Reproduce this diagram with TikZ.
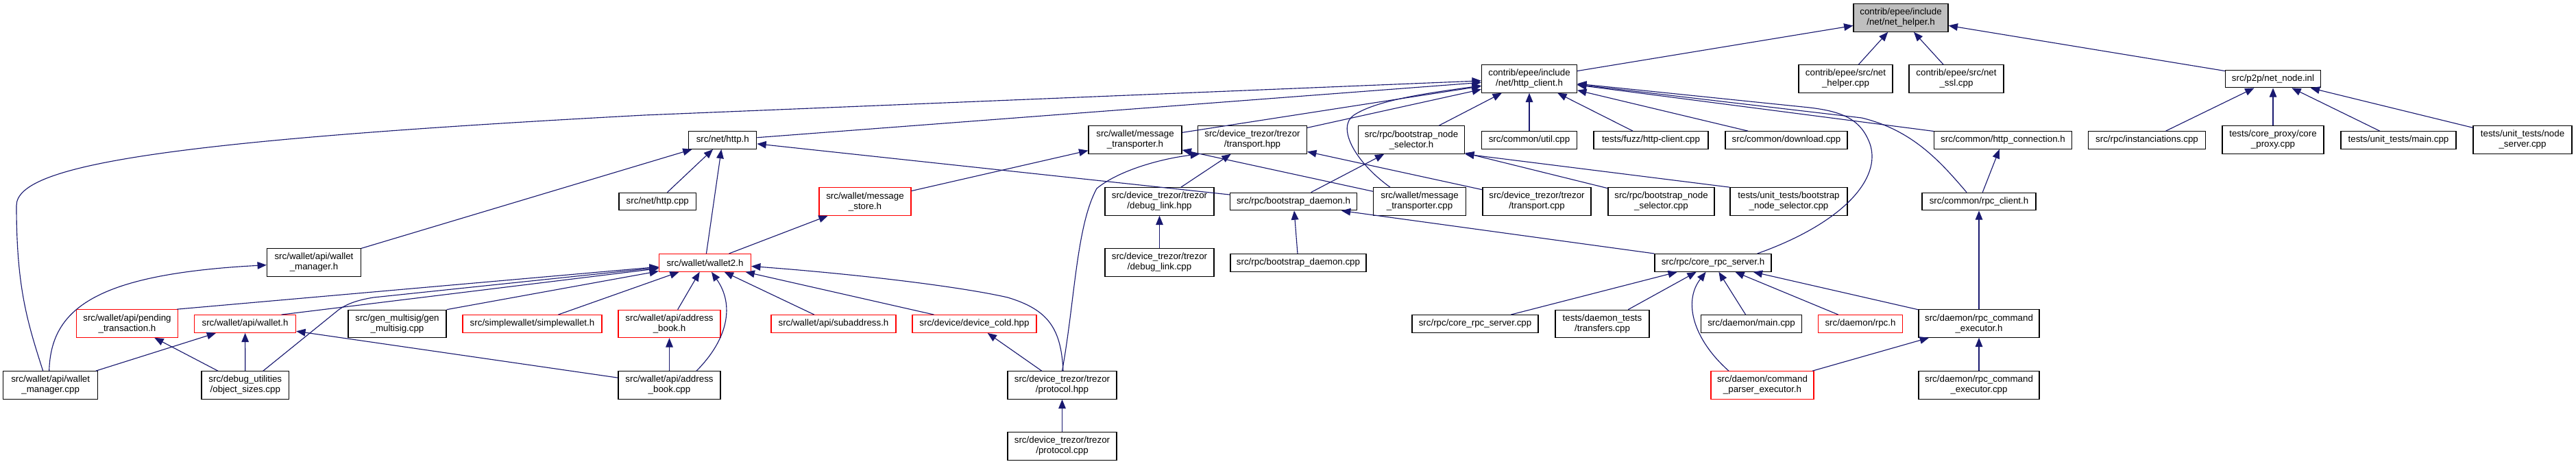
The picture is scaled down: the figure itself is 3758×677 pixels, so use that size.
\documentclass[tikz,border=0pt]{standalone}
\usepackage{fontspec}
\setmainfont{Liberation Sans}
\usetikzlibrary{arrows.meta,calc}
\definecolor{edgecol}{HTML}{191970}
\definecolor{grayfill}{HTML}{BFBFBF}
\definecolor{redb}{HTML}{FF0000}
\begin{document}
\begin{tikzpicture}[x=0.75pt,y=-0.75pt,
  nd/.style={draw=black, line width=0.9pt, fill=white, inner sep=0pt, align=center, font=\fontsize{10}{11.25}\selectfont},
  rd/.style={nd, draw=redb},
  gy/.style={nd, fill=grayfill},
  one/.style={minimum height=25.6*0.75pt},
  two/.style={minimum height=40.4*0.75pt},
  bw/.style={minimum width=#1*0.75pt},
  dep/.style={draw=edgecol, line width=0.85pt, -{Triangle[length=10pt,width=8pt]}}]
\path[use as bounding box] (0,0) rectangle (3758,677);
% row 0
\node[gy,two,bw=138] (nh) at (2773,26) {contrib/epee/include\\/net/net\_helper.h};
% row 1
\node[nd,two,bw=139] (hc) at (2231,115) {contrib/epee/include\\/net/http\_client.h};
\node[nd,two,bw=137] (nhc) at (2692.5,115) {contrib/epee/src/net\\\_helper.cpp};
\node[nd,two,bw=138] (nssl) at (2854,115) {contrib/epee/src/net\\\_ssl.cpp};
\node[nd,one,bw=139] (nn) at (3316,115) {src/p2p/net\_node.inl};
% row 2
\node[nd,one,bw=99] (httph) at (1054.3,204.5) {src/net/http.h};
\node[nd,two,bw=136] (mth) at (1656,204) {src/wallet/message\\\_transporter.h};
\node[nd,two,bw=159] (thpp) at (1827,204) {src/device\_trezor/trezor\\/transport.hpp};
\node[nd,two,bw=155] (bnsh) at (2059,204) {src/rpc/bootstrap\_node\\\_selector.h};
\node[nd,one,bw=139] (util) at (2231,204.5) {src/common/util.cpp};
\node[nd,one,bw=167] (fuzz) at (2408.5,204.5) {tests/fuzz/http-client.cpp};
\node[nd,one,bw=178] (dl) at (2606,204.5) {src/common/download.cpp};
\node[nd,one,bw=201] (hconn) at (2922,204.5) {src/common/http\_connection.h};
\node[nd,one,bw=171] (inst) at (3132,204.5) {src/rpc/instanciations.cpp};
\node[nd,two,bw=148] (cproxy) at (3316,204) {tests/core\_proxy/core\\\_proxy.cpp};
\node[nd,one,bw=168] (utmain) at (3499,204.5) {tests/unit\_tests/main.cpp};
\node[nd,two,bw=144] (nserv) at (3680,204) {tests/unit\_tests/node\\\_server.cpp};
% row 3
\node[nd,one,bw=112.5] (httpcpp) at (959.3,294) {src/net/http.cpp};
\node[rd,two,bw=134] (mstore) at (1262,294) {src/wallet/message\\\_store.h};
\node[nd,two,bw=159] (dlhpp) at (1691.5,294) {src/device\_trezor/trezor\\/debug\_link.hpp};
\node[nd,one,bw=184.5] (bdh) at (1887,294) {src/rpc/bootstrap\_daemon.h};
\node[nd,two,bw=134.5] (mtcpp) at (2071,294) {src/wallet/message\\\_transporter.cpp};
\node[nd,two,bw=158] (tcpp) at (2242,294) {src/device\_trezor/trezor\\/transport.cpp};
\node[nd,two,bw=155] (bnscpp) at (2423.5,294) {src/rpc/bootstrap\_node\\\_selector.cpp};
\node[nd,two,bw=171] (ubns) at (2609.5,294) {tests/unit\_tests/bootstrap\\\_node\_selector.cpp};
\node[nd,one,bw=166] (rpcc) at (2887,294) {src/common/rpc\_client.h};
% row 4
\node[nd,two,bw=137] (wmh) at (458,383) {src/wallet/api/wallet\\\_manager.h};
\node[rd,one,bw=134] (w2) at (1028.5,383.4) {src/wallet/wallet2.h};
\node[nd,two,bw=159] (dlcpp) at (1691.5,383) {src/device\_trezor/trezor\\/debug\_link.cpp};
\node[nd,one,bw=198] (bdcpp) at (1894,383.4) {src/rpc/bootstrap\_daemon.cpp};
\node[nd,one,bw=170] (crsh) at (2499,383.4) {src/rpc/core\_rpc\_server.h};
% row 5
\node[rd,two,bw=148] (pend) at (185.5,472) {src/wallet/api/pending\\\_transaction.h};
\node[rd,one,bw=148] (wallh) at (357.6,472.5) {src/wallet/api/wallet.h};
\node[nd,two,bw=143] (gms) at (579.5,472.5) {src/gen\_multisig/gen\\\_multisig.cpp};
\node[rd,one,bw=203] (sw) at (776.5,472.5) {src/simplewallet/simplewallet.h};
\node[rd,two,bw=149] (abh) at (976.5,472.5) {src/wallet/api/address\\\_book.h};
\node[rd,one,bw=182] (sub) at (1216,472.5) {src/wallet/api/subaddress.h};
\node[rd,one,bw=181] (dcold) at (1421.5,472.5) {src/device/device\_cold.hpp};
\node[nd,one,bw=184] (crscpp) at (2152,472.5) {src/rpc/core\_rpc\_server.cpp};
\node[nd,two,bw=137] (transf) at (2337.5,472.5) {tests/daemon\_tests\\/transfers.cpp};
\node[nd,one,bw=147] (dmain) at (2555,472.5) {src/daemon/main.cpp};
\node[rd,one,bw=123] (drpc) at (2714,472.5) {src/daemon/rpc.h};
\node[nd,two,bw=176] (rceh) at (2887,472) {src/daemon/rpc\_command\\\_executor.h};
% row 6
\node[nd,two,bw=138] (wmcpp) at (73.7,562) {src/wallet/api/wallet\\\_manager.cpp};
\node[nd,two,bw=127.5] (objs) at (357.8,562) {src/debug\_utilities\\/object\_sizes.cpp};
\node[nd,two,bw=149] (abcpp) at (976.5,562) {src/wallet/api/address\\\_book.cpp};
\node[nd,two,bw=159] (prhpp) at (1549.5,562) {src/device\_trezor/trezor\\/protocol.hpp};
\node[rd,two,bw=150] (cpe) at (2571,562) {src/daemon/command\\\_parser\_executor.h};
\node[nd,two,bw=176] (rcecpp) at (2887,562) {src/daemon/rpc\_command\\\_executor.cpp};
% row 7
\node[nd,two,bw=159] (prcpp) at (1549.5,651) {src/device\_trezor/trezor\\/protocol.cpp};
% edges
\draw[dep] (hc) -- (nh);
\draw[dep] (nhc) -- (nh);
\draw[dep] (nssl) -- (nh);
\draw[dep] (nn) -- (nh);
\draw[dep] (httph) -- (hc);
\draw[dep] ($(wmcpp.north)+(-11,0)$) .. controls (40,470) and (24,420) .. (24,300) .. controls (24,240) and (250,205) .. (940,168) -- (hc);
\draw[dep] (mth) -- (hc);
\draw[dep] (thpp) -- (hc);
\draw[dep] ($(mtcpp.north)+(-43,0)$) .. controls (1975,235) and (1950,185) .. (1975,168) .. controls (2010,145) and (2090,135) .. (hc);
\draw[dep] (bnsh) -- (hc);
\draw[dep] (util) -- (hc);
\draw[dep] (fuzz) -- (hc);
\draw[dep] (dl) -- (hc);
\draw[dep] (hconn) -- (hc);
\draw[dep] ($(rpcc.north)+(-18,0)$) .. controls (2830,235) and (2790,190) .. (2716,172) -- (hc);
\draw[dep] ($(crsh.north east)+(-21,0)$) .. controls (2690,325) and (2745,260) .. (2728,210) .. controls (2715,175) and (2690,163) .. (2640,157) -- (hc);
\draw[dep] (rpcc) -- (hconn);
\draw[dep] (rceh) -- (rpcc);
\draw[dep] (rceh) -- (crsh);
\draw[dep] (rcecpp) -- (rceh);
\draw[dep] (cpe) -- (rceh);
\draw[dep] ($(cpe.north)+(-49,0)$) .. controls (2470,495) and (2455,440) .. (crsh);
\draw[dep] (crscpp) -- (crsh);
\draw[dep] (transf) -- (crsh);
\draw[dep] (dmain) -- (crsh);
\draw[dep] (drpc) -- (crsh);
\draw[dep] (crsh.north west) -- ($(bdh.south east)+(-23,0)$);
\draw[dep] (bdcpp) -- (bdh);
\draw[dep] (bdh) -- (bnsh);
\draw[dep] (bdh) -- (httph);
\draw[dep] (bnscpp) -- (bnsh);
\draw[dep] (ubns.north west) -- (bnsh.south east);
\draw[dep] (mtcpp) -- (mth);
\draw[dep] (tcpp) -- (thpp);
\draw[dep] (dlhpp) -- (thpp);
\draw[dep] (prhpp.north) .. controls (1568,440) and (1570,330) .. (1600,275) .. controls (1630,250) and (1690,232) .. ($(thpp.south west)+(3,0)$);
\draw[dep] (mstore) -- (mth);
\draw[dep] (w2) -- (mstore);
\draw[dep] (w2) -- (httph);
\draw[dep] (httpcpp) -- (httph);
\draw[dep] (wmh) -- (httph);
\draw[dep] (dlcpp) -- (dlhpp);
\draw[dep] ($(pend.north east)+(-2,0)$) -- (w2);
\draw[dep] ($(wallh.north)+(53,0)$) -- (w2);
\draw[dep] ($(objs.north)+(26,0)$) -- (494,452) .. controls (505,444) and (520,438) .. (545,434) -- (w2);
\draw[dep] (gms.north east) -- (w2);
\draw[dep] (sw) -- (w2);
\draw[dep] (abh) -- (w2);
\draw[dep] ($(abcpp.north)+(39.5,0)$) .. controls (1062,495) and (1072,445) .. (w2);
\draw[dep] (sub) -- (w2);
\draw[dep] (dcold) -- (w2);
\draw[dep] ($(prhpp.north)+(1.5,0)$) .. controls (1548,480) and (1530,452) .. (1470,434) .. controls (1400,418) and (1250,400) .. (w2);
\draw[dep] (prhpp) -- (dcold);
\draw[dep] (prcpp) -- (prhpp);
\draw[dep] (abcpp) -- (abh);
\draw[dep] (abcpp) -- (wallh);
\draw[dep] (objs) -- (wallh);
\draw[dep] (objs) -- (pend);
\draw[dep] (wmcpp) -- (wallh);
\draw[dep] ($(wmcpp.north)+(-2,0)$) .. controls (74,450) and (140,400) .. (wmh);
\draw[dep] (inst) -- (nn);
\draw[dep] (cproxy) -- (nn);
\draw[dep] (utmain) -- (nn);
\draw[dep] (nserv) -- (nn);
\end{tikzpicture}
\end{document}
